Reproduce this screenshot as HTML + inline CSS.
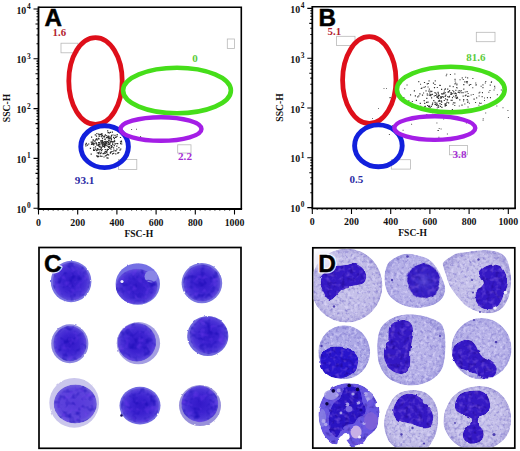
<!DOCTYPE html>
<html><head><meta charset="utf-8"><style>
html,body{margin:0;padding:0;background:#fff;}
body{width:520px;height:451px;overflow:hidden;}
svg{display:block}
</style></head><body>
<svg width="520" height="451" viewBox="0 0 520 451">
<defs>
<radialGradient id="cg0" cx="50%" cy="50%" r="50%">
<stop offset="0" stop-color="#3218c8"/><stop offset="0.5" stop-color="#3c22d0"/><stop offset="0.8" stop-color="#4a32d6"/><stop offset="0.94" stop-color="#5a46da"/><stop offset="1" stop-color="#6e60dc"/>
</radialGradient>
<radialGradient id="cg1" cx="50%" cy="50%" r="50%">
<stop offset="0" stop-color="#5638da"/><stop offset="0.8" stop-color="#5e44dc"/><stop offset="1" stop-color="#7060dc"/>
</radialGradient>
<filter id="ctex" x="0" y="0" width="100%" height="100%" color-interpolation-filters="sRGB">
<feTurbulence type="fractalNoise" baseFrequency="0.33" numOctaves="2" seed="7" result="n"/>
<feColorMatrix in="n" type="matrix" values="0 0 0 0 0.44  0 0 0 0 0.4  0 0 0 0 0.78  1.7 0 0 0 -0.84" result="dk"/>
<feColorMatrix in="n" type="matrix" values="0 0 0 0 0.9  0 0 0 0 0.88  0 0 0 0 1  0 1.7 0 0 -0.82" result="lt"/>
<feMerge result="m"><feMergeNode in="SourceGraphic"/><feMergeNode in="dk"/><feMergeNode in="lt"/></feMerge>
<feComposite in="m" in2="SourceAlpha" operator="in"/>
</filter>
<filter id="ntex" x="-5%" y="-5%" width="110%" height="110%" color-interpolation-filters="sRGB">
<feTurbulence type="fractalNoise" baseFrequency="0.12" numOctaves="2" seed="9" result="w"/>
<feDisplacementMap in="SourceGraphic" in2="w" scale="3" xChannelSelector="R" yChannelSelector="G" result="sg"/>
<feTurbulence type="fractalNoise" baseFrequency="0.22" numOctaves="2" seed="3" result="n"/>
<feColorMatrix in="n" type="matrix" values="0 0 0 0 0.1  0 0 0 0 0  0 0 0 0 0.5  1.3 0 0 0 -0.66" result="dk"/>
<feColorMatrix in="n" type="matrix" values="0 0 0 0 0.5  0 0 0 0 0.36  0 0 0 0 0.88  0 1.6 0 0 -0.78" result="lt"/>
<feMerge result="m"><feMergeNode in="sg"/><feMergeNode in="dk"/><feMergeNode in="lt"/></feMerge>
<feComposite in="m" in2="sg" operator="in"/>
</filter>
<filter id="cntex" x="0" y="0" width="100%" height="100%" color-interpolation-filters="sRGB">
<feTurbulence type="fractalNoise" baseFrequency="0.16" numOctaves="2" seed="11" result="n"/>
<feColorMatrix in="n" type="matrix" values="0 0 0 0 0.08  0 0 0 0 0.03  0 0 0 0 0.7  1.6 0 0 0 -0.78" result="dk"/>
<feColorMatrix in="n" type="matrix" values="0 0 0 0 0.46  0 0 0 0 0.24  0 0 0 0 0.95  0 1.3 0 0 -0.7" result="lt"/>
<feMerge result="m"><feMergeNode in="SourceGraphic"/><feMergeNode in="dk"/><feMergeNode in="lt"/></feMerge>
<feComposite in="m" in2="SourceAlpha" operator="in"/>
</filter>
<filter id="blur3" x="-50%" y="-50%" width="200%" height="200%"><feGaussianBlur stdDeviation="3"/></filter>
<filter id="soft" x="-10%" y="-10%" width="120%" height="120%"><feTurbulence type="fractalNoise" baseFrequency="0.3" numOctaves="1" seed="4" result="t"/><feDisplacementMap in="SourceGraphic" in2="t" scale="2.2" xChannelSelector="R" yChannelSelector="G" result="d"/><feGaussianBlur in="d" stdDeviation="0.5"/></filter>
<radialGradient id="cyg" cx="50%" cy="50%" r="50%">
<stop offset="0" stop-color="#c4bee8"/><stop offset="0.85" stop-color="#bbb5e4"/><stop offset="1" stop-color="#a8a2da"/>
</radialGradient>
<radialGradient id="cygA" cx="50%" cy="50%" r="50%">
<stop offset="0" stop-color="#c8c4ea"/><stop offset="0.85" stop-color="#c0bbe6"/><stop offset="1" stop-color="#aca6dc"/>
</radialGradient>
<radialGradient id="cygB" cx="50%" cy="50%" r="50%">
<stop offset="0" stop-color="#b2aee8"/><stop offset="0.85" stop-color="#aaa6e4"/><stop offset="1" stop-color="#9a96dc"/>
</radialGradient>
<radialGradient id="cygC" cx="50%" cy="50%" r="50%">
<stop offset="0" stop-color="#bcb7ea"/><stop offset="0.85" stop-color="#b4afe6"/><stop offset="1" stop-color="#a29dde"/>
</radialGradient>
<radialGradient id="nug" cx="50%" cy="50%" r="50%">
<stop offset="0" stop-color="#5444d2"/><stop offset="0.5" stop-color="#3822c6"/><stop offset="1" stop-color="#3218c2"/>
</radialGradient>
<clipPath id="dclip"><rect x="313.6" y="248.6" width="200.4" height="198.7"/></clipPath>
</defs>
<path d="M38.5 7.2H241.3V209" fill="none" stroke="#000" stroke-width="1.6"/>
<path d="M38.5 6.4V209H242.1" fill="none" stroke="#000" stroke-width="1.8"/>
<path d="M33.5 208.2H38.5M36.5 193.2H38.5M36.5 184.4H38.5M36.5 178.2H38.5M35.5 173.4H38.5M36.5 169.4H38.5M36.5 166.1H38.5M36.5 163.2H38.5M36.5 160.7H38.5M33.5 158.4H38.5M36.5 143.4H38.5M36.5 134.6H38.5M36.5 128.4H38.5M35.5 123.6H38.5M36.5 119.6H38.5M36.5 116.3H38.5M36.5 113.4H38.5M36.5 110.9H38.5M33.5 108.6H38.5M36.5 93.6H38.5M36.5 84.8H38.5M36.5 78.6H38.5M35.5 73.8H38.5M36.5 69.8H38.5M36.5 66.5H38.5M36.5 63.6H38.5M36.5 61.1H38.5M33.5 58.8H38.5M36.5 43.8H38.5M36.5 35H38.5M36.5 28.8H38.5M35.5 24H38.5M36.5 20H38.5M36.5 16.7H38.5M36.5 13.8H38.5M36.5 11.3H38.5M33.5 9H38.5M38.5 209V214.5M77.7 209V214.5M116.9 209V214.5M156.1 209V214.5M195.3 209V214.5M234.5 209V214.5M43.4 209V210.4M48.3 209V210.4M53.2 209V210.4M58.1 209V210.4M63 209V210.4M67.9 209V210.4M72.8 209V210.4M82.6 209V210.4M87.5 209V210.4M92.4 209V210.4M97.3 209V210.4M102.2 209V210.4M107.1 209V210.4M112 209V210.4M121.8 209V210.4M126.7 209V210.4M131.6 209V210.4M136.5 209V210.4M141.4 209V210.4M146.3 209V210.4M151.2 209V210.4M161 209V210.4M165.9 209V210.4M170.8 209V210.4M175.7 209V210.4M180.6 209V210.4M185.5 209V210.4M190.4 209V210.4M200.2 209V210.4M205.1 209V210.4M210 209V210.4M214.9 209V210.4M219.8 209V210.4M224.7 209V210.4M229.6 209V210.4" stroke="#000" stroke-width="1.1" fill="none"/>
<g font-family='"Liberation Serif", serif' font-weight="bold" font-size="9.9" fill="#111">
<text x="26.3" y="212.6" text-anchor="end">10</text>
<text x="26.9" y="208" font-size="7.4">0</text>
<text x="26.3" y="162.8" text-anchor="end">10</text>
<text x="26.9" y="158.2" font-size="7.4">1</text>
<text x="26.3" y="113.1" text-anchor="end">10</text>
<text x="26.9" y="108.5" font-size="7.4">2</text>
<text x="26.3" y="63.3" text-anchor="end">10</text>
<text x="26.9" y="58.7" font-size="7.4">3</text>
<text x="26.3" y="13.6" text-anchor="end">10</text>
<text x="26.9" y="9" font-size="7.4">4</text>
<text x="38.5" y="225.8" text-anchor="middle">0</text>
<text x="77.7" y="225.8" text-anchor="middle">200</text>
<text x="116.9" y="225.8" text-anchor="middle">400</text>
<text x="156.1" y="225.8" text-anchor="middle">600</text>
<text x="195.3" y="225.8" text-anchor="middle">800</text>
<text x="234.5" y="225.8" text-anchor="middle">1000</text>
<text x="138.8" y="236.6" text-anchor="middle" font-size="9.6">FSC-H</text>
<text transform="translate(9.6 108) rotate(-90)" text-anchor="middle" font-size="9.6">SSC-H</text>
</g>
<text x="44.6" y="26.1" font-family='"Liberation Sans", sans-serif' font-weight="bold" font-size="24.2" fill="#000" stroke="#000" stroke-width="0.5">A</text>
<rect x="61" y="43.2" width="17" height="9.6" fill="none" stroke="#b8b8b8" stroke-width="0.8"/>
<rect x="227.3" y="39" width="7.1" height="9.5" fill="none" stroke="#b8b8b8" stroke-width="0.8"/>
<rect x="118.5" y="159.4" width="18.3" height="10.2" fill="none" stroke="#b8b8b8" stroke-width="0.8"/>
<rect x="177.7" y="144.8" width="13.3" height="8.2" fill="none" stroke="#b8b8b8" stroke-width="0.8"/>
<path d="M115.2 153.3h1.2v1.2h-1.2zM104.6 138.6h1.2v1.2h-1.2zM93.1 144.2h1.2v1.2h-1.2zM94.7 134.3h1.2v1.2h-1.2zM105.3 144.6h1.2v1.2h-1.2zM109.4 137.3h1.2v1.2h-1.2zM104 143.8h1.2v1.2h-1.2zM89.8 147.7h1.2v1.2h-1.2zM106.4 157.3h1.2v1.2h-1.2zM105.3 143.3h1.2v1.2h-1.2zM116.2 145.5h1.2v1.2h-1.2zM113 141.3h1.2v1.2h-1.2zM106.2 151.5h1.2v1.2h-1.2zM110.5 144.9h1.2v1.2h-1.2zM93.2 147.3h1.2v1.2h-1.2zM104.7 149h1.2v1.2h-1.2zM106.1 152h1.2v1.2h-1.2zM103.7 144.9h1.2v1.2h-1.2zM110.6 136.1h1.2v1.2h-1.2zM100.3 140.6h1.2v1.2h-1.2zM121.1 143.4h1.2v1.2h-1.2zM110.4 148.5h1.2v1.2h-1.2zM101.3 133.1h1.2v1.2h-1.2zM113.6 141h1.2v1.2h-1.2zM110.9 134.7h1.2v1.2h-1.2zM99.7 153.1h1.2v1.2h-1.2zM116.5 135.6h1.2v1.2h-1.2zM90.9 143.7h1.2v1.2h-1.2zM110.9 145.1h1.2v1.2h-1.2zM107 136.8h1.2v1.2h-1.2zM109.8 152.1h1.2v1.2h-1.2zM99.8 133.8h1.2v1.2h-1.2zM96.5 149.6h1.2v1.2h-1.2zM88.1 143.4h1.2v1.2h-1.2zM94.2 143h1.2v1.2h-1.2zM102.4 144.1h1.2v1.2h-1.2zM118.3 147h1.2v1.2h-1.2zM117.1 143h1.2v1.2h-1.2zM99.7 146.5h1.2v1.2h-1.2zM85.2 143.8h1.2v1.2h-1.2zM105.6 135h1.2v1.2h-1.2zM108.4 140.1h1.2v1.2h-1.2zM85.7 142.8h1.2v1.2h-1.2zM94.3 140.2h1.2v1.2h-1.2zM102.5 153.1h1.2v1.2h-1.2zM104.5 143.9h1.2v1.2h-1.2zM107.5 132.1h1.2v1.2h-1.2zM115.6 136.6h1.2v1.2h-1.2zM108.4 135.8h1.2v1.2h-1.2zM94.3 141.1h1.2v1.2h-1.2zM120.2 148.4h1.2v1.2h-1.2zM98.4 142.1h1.2v1.2h-1.2zM92.6 143.7h1.2v1.2h-1.2zM98.4 149.2h1.2v1.2h-1.2zM90.7 141.6h1.2v1.2h-1.2zM95.6 138.7h1.2v1.2h-1.2zM110.7 144.9h1.2v1.2h-1.2zM109.8 152.6h1.2v1.2h-1.2zM114.4 134.8h1.2v1.2h-1.2zM108.8 132.4h1.2v1.2h-1.2zM103.4 156.4h1.2v1.2h-1.2zM102.5 141.8h1.2v1.2h-1.2zM105 144.1h1.2v1.2h-1.2zM104.3 138.7h1.2v1.2h-1.2zM114.6 150.4h1.2v1.2h-1.2zM102.4 145.8h1.2v1.2h-1.2zM110.5 151.5h1.2v1.2h-1.2zM107.8 148.9h1.2v1.2h-1.2zM101.4 136.2h1.2v1.2h-1.2zM99.1 151.5h1.2v1.2h-1.2zM113.7 145.1h1.2v1.2h-1.2zM98.8 146.1h1.2v1.2h-1.2zM117.7 152.2h1.2v1.2h-1.2zM97.7 143.7h1.2v1.2h-1.2zM91 136.5h1.2v1.2h-1.2zM105.1 144.1h1.2v1.2h-1.2zM113.1 152.8h1.2v1.2h-1.2zM111.9 153.3h1.2v1.2h-1.2zM98.6 135.8h1.2v1.2h-1.2zM107.4 157.5h1.2v1.2h-1.2zM107.5 135.6h1.2v1.2h-1.2zM106.4 154.2h1.2v1.2h-1.2zM93.8 149.8h1.2v1.2h-1.2zM98 153.1h1.2v1.2h-1.2zM111.6 146.2h1.2v1.2h-1.2zM121 141.4h1.2v1.2h-1.2zM98.1 155.8h1.2v1.2h-1.2zM97.3 156.4h1.2v1.2h-1.2zM103.6 136.4h1.2v1.2h-1.2zM104 144.5h1.2v1.2h-1.2zM105.4 143h1.2v1.2h-1.2zM111.8 131.6h1.2v1.2h-1.2zM99 142.3h1.2v1.2h-1.2zM116.6 133.9h1.2v1.2h-1.2zM100.6 135.6h1.2v1.2h-1.2zM97.5 148.6h1.2v1.2h-1.2zM108 154.2h1.2v1.2h-1.2zM98.5 145.8h1.2v1.2h-1.2zM115.3 150.4h1.2v1.2h-1.2zM100.7 152.3h1.2v1.2h-1.2zM96.1 155.3h1.2v1.2h-1.2zM104.9 143.5h1.2v1.2h-1.2zM106.6 150.1h1.2v1.2h-1.2zM120 143h1.2v1.2h-1.2zM100.6 148h1.2v1.2h-1.2zM96.3 133h1.2v1.2h-1.2zM112.2 141.3h1.2v1.2h-1.2zM114.8 136.7h1.2v1.2h-1.2zM85.3 145.3h1.2v1.2h-1.2zM105.5 155.1h1.2v1.2h-1.2zM108.7 146.1h1.2v1.2h-1.2zM109.5 141.5h1.2v1.2h-1.2zM104.8 134.2h1.2v1.2h-1.2zM109.1 138.2h1.2v1.2h-1.2zM99.7 149h1.2v1.2h-1.2zM113 136.7h1.2v1.2h-1.2zM120.8 140.4h1.2v1.2h-1.2zM112.3 150.9h1.2v1.2h-1.2zM105.6 144.9h1.2v1.2h-1.2zM119.4 149.6h1.2v1.2h-1.2zM108 132.1h1.2v1.2h-1.2zM96.7 152.4h1.2v1.2h-1.2zM105.9 137.1h1.2v1.2h-1.2zM98 141.9h1.2v1.2h-1.2zM110.6 146.7h1.2v1.2h-1.2zM113.8 138.1h1.2v1.2h-1.2zM113.8 140.3h1.2v1.2h-1.2zM101.3 155.7h1.2v1.2h-1.2zM104.4 143.4h1.2v1.2h-1.2zM102.3 141.7h1.2v1.2h-1.2zM117.1 152.5h1.2v1.2h-1.2zM110.8 145.3h1.2v1.2h-1.2zM114.3 143.4h1.2v1.2h-1.2zM108.1 146.7h1.2v1.2h-1.2zM104.8 155.4h1.2v1.2h-1.2zM118.2 151.9h1.2v1.2h-1.2zM90.6 153.5h1.2v1.2h-1.2zM110.8 140.8h1.2v1.2h-1.2zM103.8 152.3h1.2v1.2h-1.2zM115.4 150.1h1.2v1.2h-1.2zM104.8 144.1h1.2v1.2h-1.2zM112 143.3h1.2v1.2h-1.2zM95.1 139.4h1.2v1.2h-1.2zM102.9 145.9h1.2v1.2h-1.2zM119.9 136.9h1.2v1.2h-1.2zM108 143.4h1.2v1.2h-1.2zM106.9 153.8h1.2v1.2h-1.2zM116.3 142.9h1.2v1.2h-1.2zM98.6 134.3h1.2v1.2h-1.2zM103.3 153.1h1.2v1.2h-1.2zM101.5 148.9h1.2v1.2h-1.2zM110.8 146.8h1.2v1.2h-1.2zM114.8 143.2h1.2v1.2h-1.2zM95.9 135.6h1.2v1.2h-1.2zM113.2 141.4h1.2v1.2h-1.2zM101 150h1.2v1.2h-1.2zM97.1 155.4h1.2v1.2h-1.2zM110.5 140.2h1.2v1.2h-1.2zM97.7 151.9h1.2v1.2h-1.2zM92.4 139.4h1.2v1.2h-1.2zM104 144.9h1.2v1.2h-1.2zM104.1 146.2h1.2v1.2h-1.2zM101.2 143.3h1.2v1.2h-1.2zM116.3 148.6h1.2v1.2h-1.2zM99.9 155.5h1.2v1.2h-1.2zM86.9 144.5h1.2v1.2h-1.2zM110.6 151.1h1.2v1.2h-1.2zM104.9 141.8h1.2v1.2h-1.2zM109.3 142.7h1.2v1.2h-1.2zM107.1 130.3h1.2v1.2h-1.2zM107.7 138.3h1.2v1.2h-1.2zM113.3 149.5h1.2v1.2h-1.2zM111 141.1h1.2v1.2h-1.2zM107.8 141.8h1.2v1.2h-1.2zM105.4 143.3h1.2v1.2h-1.2zM96.9 155.9h1.2v1.2h-1.2zM109.9 131.7h1.2v1.2h-1.2zM112.4 134.4h1.2v1.2h-1.2zM101.9 140.1h1.2v1.2h-1.2zM99.2 145.6h1.2v1.2h-1.2zM100.9 133.7h1.2v1.2h-1.2zM104 146.1h1.2v1.2h-1.2zM119.9 141.2h1.2v1.2h-1.2zM92.2 141.2h1.2v1.2h-1.2zM110.5 137.5h1.2v1.2h-1.2zM96.9 148h1.2v1.2h-1.2zM103.9 145h1.2v1.2h-1.2zM97.8 138h1.2v1.2h-1.2zM101.5 143.1h1.2v1.2h-1.2zM101.1 146.8h1.2v1.2h-1.2zM109.2 147.8h1.2v1.2h-1.2zM108.7 137.5h1.2v1.2h-1.2zM93 149.8h1.2v1.2h-1.2zM104.1 144.5h1.2v1.2h-1.2zM92.5 142.5h1.2v1.2h-1.2zM97.7 137.7h1.2v1.2h-1.2zM98.1 133.6h1.2v1.2h-1.2zM104.8 152.5h1.2v1.2h-1.2zM97.4 144.7h1.2v1.2h-1.2zM93.2 148.9h1.2v1.2h-1.2z" fill="#2a2a2a"/>
<path d="M114.1 140.6h1.2v1.2h-1.2zM104.6 143.4h1.2v1.2h-1.2zM107.8 136.9h1.2v1.2h-1.2zM100.7 139.9h1.2v1.2h-1.2zM96.7 139.3h1.2v1.2h-1.2zM100.6 142h1.2v1.2h-1.2zM97.8 144.8h1.2v1.2h-1.2zM101 134.2h1.2v1.2h-1.2zM110 141.3h1.2v1.2h-1.2zM99.1 144.1h1.2v1.2h-1.2zM103.7 143.1h1.2v1.2h-1.2zM98.3 143.8h1.2v1.2h-1.2zM95 148.6h1.2v1.2h-1.2zM95.5 142.1h1.2v1.2h-1.2zM103.1 143.5h1.2v1.2h-1.2zM101.9 144.6h1.2v1.2h-1.2zM91 142.4h1.2v1.2h-1.2zM101.6 141h1.2v1.2h-1.2zM110.9 138.3h1.2v1.2h-1.2zM101.9 134.7h1.2v1.2h-1.2zM103.8 135.6h1.2v1.2h-1.2zM95.8 150h1.2v1.2h-1.2zM105.7 142.5h1.2v1.2h-1.2zM103.2 136.1h1.2v1.2h-1.2zM96 144.3h1.2v1.2h-1.2zM91.7 143.5h1.2v1.2h-1.2zM92.6 143h1.2v1.2h-1.2zM96.4 149.5h1.2v1.2h-1.2zM108.2 140.1h1.2v1.2h-1.2zM92.8 139.5h1.2v1.2h-1.2zM101.9 138h1.2v1.2h-1.2zM103.9 146.6h1.2v1.2h-1.2zM102.1 141h1.2v1.2h-1.2zM106.5 141.3h1.2v1.2h-1.2zM107 141.1h1.2v1.2h-1.2zM111.8 141.2h1.2v1.2h-1.2zM95.9 142.9h1.2v1.2h-1.2zM98.4 138.2h1.2v1.2h-1.2zM101.7 145.4h1.2v1.2h-1.2zM91.7 142.4h1.2v1.2h-1.2zM101.9 142.2h1.2v1.2h-1.2zM107 136.7h1.2v1.2h-1.2zM105.7 141.7h1.2v1.2h-1.2zM103 142.1h1.2v1.2h-1.2zM100.6 140.4h1.2v1.2h-1.2zM104.6 151h1.2v1.2h-1.2zM108.6 146.3h1.2v1.2h-1.2zM105.4 140.7h1.2v1.2h-1.2zM105.7 150.9h1.2v1.2h-1.2zM94.9 146.2h1.2v1.2h-1.2zM108.2 143.8h1.2v1.2h-1.2zM107.1 148.8h1.2v1.2h-1.2zM113 147.3h1.2v1.2h-1.2zM112.2 144.1h1.2v1.2h-1.2zM107 143.4h1.2v1.2h-1.2zM104.1 141.1h1.2v1.2h-1.2zM106.6 149.1h1.2v1.2h-1.2zM102.3 143.5h1.2v1.2h-1.2zM105.6 142.9h1.2v1.2h-1.2zM108 143.9h1.2v1.2h-1.2zM95.9 138.3h1.2v1.2h-1.2zM106.8 145.5h1.2v1.2h-1.2zM109.2 143.9h1.2v1.2h-1.2zM103.9 136h1.2v1.2h-1.2zM110.8 138.8h1.2v1.2h-1.2zM108.9 137.8h1.2v1.2h-1.2zM99.4 143.5h1.2v1.2h-1.2zM100.5 140h1.2v1.2h-1.2zM108.1 145.8h1.2v1.2h-1.2zM104.6 141.8h1.2v1.2h-1.2z" fill="#333"/>
<path d="M124.9 133.4h1.0v1.0h-1.0zM136 128.8h1.0v1.0h-1.0zM131.1 129h1.0v1.0h-1.0zM138.6 138.8h1.0v1.0h-1.0zM140.1 136h1.0v1.0h-1.0zM134.4 136.9h1.0v1.0h-1.0zM127.6 138.6h1.0v1.0h-1.0zM124.5 136.6h1.0v1.0h-1.0z" fill="#555"/>
<ellipse cx="95.5" cy="81" rx="26.7" ry="43.4" fill="none" stroke="#de0f1a" stroke-width="4.8"/>
<ellipse cx="104.6" cy="146.7" rx="23.8" ry="20.9" fill="none" stroke="#1220dc" stroke-width="4.9"/>
<ellipse cx="177" cy="90.5" rx="53.9" ry="22.8" fill="none" stroke="#46de1a" stroke-width="4.6"/>
<ellipse cx="161" cy="129" rx="40.5" ry="11.8" fill="none" stroke="#a41ee6" stroke-width="4.4"/>
<g font-family='"Liberation Serif", serif' font-weight="bold">
<text x="52.6" y="35.6" font-size="10.8" fill="#b2222e">1.6</text>
<text x="192.3" y="61.6" font-size="11" fill="#5ccc3c">0</text>
<text x="178" y="159.6" font-size="11.2" fill="#a42cd4">2.2</text>
<text x="74.8" y="183.6" font-size="11.2" fill="#2c2ca4">93.1</text>
</g>
<path d="M312.3 6.7H515.1V208.4" fill="none" stroke="#000" stroke-width="1.6"/>
<path d="M312.3 5.9V208.4H515.9" fill="none" stroke="#000" stroke-width="1.8"/>
<path d="M307.3 207.6H312.3M310.3 192.7H312.3M310.3 183.9H312.3M310.3 177.7H312.3M309.3 172.8H312.3M310.3 168.9H312.3M310.3 165.6H312.3M310.3 162.7H312.3M310.3 160.1H312.3M307.3 157.8H312.3M310.3 142.9H312.3M310.3 134.1H312.3M310.3 127.9H312.3M309.3 123H312.3M310.3 119.1H312.3M310.3 115.8H312.3M310.3 112.9H312.3M310.3 110.3H312.3M307.3 108H312.3M310.3 93.1H312.3M310.3 84.3H312.3M310.3 78.1H312.3M309.3 73.2H312.3M310.3 69.3H312.3M310.3 66H312.3M310.3 63.1H312.3M310.3 60.5H312.3M307.3 58.2H312.3M310.3 43.3H312.3M310.3 34.5H312.3M310.3 28.3H312.3M309.3 23.4H312.3M310.3 19.5H312.3M310.3 16.2H312.3M310.3 13.3H312.3M310.3 10.7H312.3M307.3 8.4H312.3M312.3 208.4V213.9M351.5 208.4V213.9M390.7 208.4V213.9M429.9 208.4V213.9M469.1 208.4V213.9M508.3 208.4V213.9M317.2 208.4V209.8M322.1 208.4V209.8M327 208.4V209.8M331.9 208.4V209.8M336.8 208.4V209.8M341.7 208.4V209.8M346.6 208.4V209.8M356.4 208.4V209.8M361.3 208.4V209.8M366.2 208.4V209.8M371.1 208.4V209.8M376 208.4V209.8M380.9 208.4V209.8M385.8 208.4V209.8M395.6 208.4V209.8M400.5 208.4V209.8M405.4 208.4V209.8M410.3 208.4V209.8M415.2 208.4V209.8M420.1 208.4V209.8M425 208.4V209.8M434.8 208.4V209.8M439.7 208.4V209.8M444.6 208.4V209.8M449.5 208.4V209.8M454.4 208.4V209.8M459.3 208.4V209.8M464.2 208.4V209.8M474 208.4V209.8M478.9 208.4V209.8M483.8 208.4V209.8M488.7 208.4V209.8M493.6 208.4V209.8M498.5 208.4V209.8M503.4 208.4V209.8" stroke="#000" stroke-width="1.1" fill="none"/>
<g font-family='"Liberation Serif", serif' font-weight="bold" font-size="9.9" fill="#111">
<text x="300.1" y="212" text-anchor="end">10</text>
<text x="300.7" y="207.4" font-size="7.4">0</text>
<text x="300.1" y="162.3" text-anchor="end">10</text>
<text x="300.7" y="157.7" font-size="7.4">1</text>
<text x="300.1" y="112.5" text-anchor="end">10</text>
<text x="300.7" y="107.9" font-size="7.4">2</text>
<text x="300.1" y="62.8" text-anchor="end">10</text>
<text x="300.7" y="58.2" font-size="7.4">3</text>
<text x="300.1" y="13" text-anchor="end">10</text>
<text x="300.7" y="8.4" font-size="7.4">4</text>
<text x="312.3" y="225.2" text-anchor="middle">0</text>
<text x="351.5" y="225.2" text-anchor="middle">200</text>
<text x="390.7" y="225.2" text-anchor="middle">400</text>
<text x="429.9" y="225.2" text-anchor="middle">600</text>
<text x="469.1" y="225.2" text-anchor="middle">800</text>
<text x="508.3" y="225.2" text-anchor="middle">1000</text>
<text x="412.6" y="236" text-anchor="middle" font-size="9.6">FSC-H</text>
<text transform="translate(283.4 107.5) rotate(-90)" text-anchor="middle" font-size="9.6">SSC-H</text>
</g>
<text x="318.4" y="25.6" font-family='"Liberation Sans", sans-serif' font-weight="bold" font-size="24.2" fill="#000" stroke="#000" stroke-width="0.5">B</text>
<rect x="336.6" y="36.3" width="18.4" height="9.3" fill="none" stroke="#b8b8b8" stroke-width="0.8"/>
<rect x="476.3" y="32.3" width="18.7" height="9.4" fill="none" stroke="#b8b8b8" stroke-width="0.8"/>
<rect x="391.3" y="159.7" width="19.1" height="9.4" fill="none" stroke="#b8b8b8" stroke-width="0.8"/>
<rect x="449.5" y="145.4" width="18" height="9.4" fill="none" stroke="#b8b8b8" stroke-width="0.8"/>
<path d="M441.3 106.8h1.2v1.2h-1.2zM427 104.9h1.2v1.2h-1.2zM436.4 96.2h1.2v1.2h-1.2zM466.6 99.1h1.2v1.2h-1.2zM439.4 103.1h1.2v1.2h-1.2zM455.8 97.8h1.2v1.2h-1.2zM448.2 91.2h1.2v1.2h-1.2zM434.9 94.9h1.2v1.2h-1.2zM421.3 87.4h1.2v1.2h-1.2zM417.2 96.3h1.2v1.2h-1.2zM437.6 95.8h1.2v1.2h-1.2zM441 88.7h1.2v1.2h-1.2zM438.9 99.7h1.2v1.2h-1.2zM450.5 92.1h1.2v1.2h-1.2zM434.4 83.9h1.2v1.2h-1.2zM432.9 82.6h1.2v1.2h-1.2zM420.1 105.7h1.2v1.2h-1.2zM409.2 103.6h1.2v1.2h-1.2zM444.6 95.8h1.2v1.2h-1.2zM446.4 101.7h1.2v1.2h-1.2zM454.6 96.4h1.2v1.2h-1.2zM431.7 93.8h1.2v1.2h-1.2zM426.2 97.7h1.2v1.2h-1.2zM429 105.5h1.2v1.2h-1.2zM413.8 90.3h1.2v1.2h-1.2zM426.7 83.3h1.2v1.2h-1.2zM466.6 81.1h1.2v1.2h-1.2zM436 94.3h1.2v1.2h-1.2zM463.2 84.1h1.2v1.2h-1.2zM455 92.9h1.2v1.2h-1.2zM437.8 93.3h1.2v1.2h-1.2zM449 90h1.2v1.2h-1.2zM438.9 100.5h1.2v1.2h-1.2zM465.8 81.2h1.2v1.2h-1.2zM461.4 104.6h1.2v1.2h-1.2zM433.2 100.1h1.2v1.2h-1.2zM433.5 109.5h1.2v1.2h-1.2zM442.9 96.5h1.2v1.2h-1.2zM436.8 96.6h1.2v1.2h-1.2zM437.5 91.8h1.2v1.2h-1.2zM468.8 84.6h1.2v1.2h-1.2zM389.5 97.1h1.2v1.2h-1.2zM437.9 100.6h1.2v1.2h-1.2zM437.1 97h1.2v1.2h-1.2zM444.7 104.8h1.2v1.2h-1.2zM433.7 95.4h1.2v1.2h-1.2zM467.2 101.7h1.2v1.2h-1.2zM426.2 114.3h1.2v1.2h-1.2zM450.9 93.9h1.2v1.2h-1.2zM423.6 100.1h1.2v1.2h-1.2zM428.3 90.6h1.2v1.2h-1.2zM421.9 94.5h1.2v1.2h-1.2zM455.5 95h1.2v1.2h-1.2zM419.7 102.7h1.2v1.2h-1.2zM440.9 103.9h1.2v1.2h-1.2zM456.8 96.8h1.2v1.2h-1.2zM438 97.7h1.2v1.2h-1.2zM424.1 102.7h1.2v1.2h-1.2zM459.2 99.2h1.2v1.2h-1.2zM436.7 96.2h1.2v1.2h-1.2zM429.1 92.4h1.2v1.2h-1.2zM434.4 92.1h1.2v1.2h-1.2zM433.9 87h1.2v1.2h-1.2zM444.9 98.3h1.2v1.2h-1.2zM423.9 81.9h1.2v1.2h-1.2zM439.9 105.7h1.2v1.2h-1.2zM429.7 94.6h1.2v1.2h-1.2zM432 102.6h1.2v1.2h-1.2zM427.2 104.9h1.2v1.2h-1.2zM435.8 104.5h1.2v1.2h-1.2zM440.5 96.4h1.2v1.2h-1.2zM419.3 93.2h1.2v1.2h-1.2zM436.3 102.6h1.2v1.2h-1.2zM443.4 93.1h1.2v1.2h-1.2zM445.7 104.9h1.2v1.2h-1.2zM437.9 94.9h1.2v1.2h-1.2zM434.5 103.7h1.2v1.2h-1.2zM447.5 91.5h1.2v1.2h-1.2zM445.2 94.6h1.2v1.2h-1.2zM429.5 106.7h1.2v1.2h-1.2zM451.5 92.9h1.2v1.2h-1.2zM441.1 101.5h1.2v1.2h-1.2zM431 97.2h1.2v1.2h-1.2zM449.3 85.5h1.2v1.2h-1.2zM444.6 103.2h1.2v1.2h-1.2zM447.1 88.6h1.2v1.2h-1.2zM444.5 92h1.2v1.2h-1.2zM448 102.2h1.2v1.2h-1.2zM443 92.6h1.2v1.2h-1.2zM431.7 104h1.2v1.2h-1.2zM427.4 101.5h1.2v1.2h-1.2zM447.2 96h1.2v1.2h-1.2zM473.5 98.5h1.2v1.2h-1.2zM470.1 83.9h1.2v1.2h-1.2zM408.6 104.9h1.2v1.2h-1.2zM448.9 95.8h1.2v1.2h-1.2zM439.3 84.7h1.2v1.2h-1.2zM431.2 90.8h1.2v1.2h-1.2zM436.9 104.2h1.2v1.2h-1.2zM440.7 100.6h1.2v1.2h-1.2zM430.2 95h1.2v1.2h-1.2zM441.6 96h1.2v1.2h-1.2zM457.7 91.9h1.2v1.2h-1.2zM466.5 91.1h1.2v1.2h-1.2zM454.8 92.6h1.2v1.2h-1.2zM463.1 99h1.2v1.2h-1.2zM445.6 103.2h1.2v1.2h-1.2zM431.1 90.7h1.2v1.2h-1.2zM411.6 106.5h1.2v1.2h-1.2zM430.3 93.9h1.2v1.2h-1.2zM439.6 111.9h1.2v1.2h-1.2zM415.8 99.7h1.2v1.2h-1.2zM434.5 101.7h1.2v1.2h-1.2zM414.8 95.2h1.2v1.2h-1.2zM451.8 108.9h1.2v1.2h-1.2zM462.4 92h1.2v1.2h-1.2zM440.8 97.2h1.2v1.2h-1.2zM420.7 87.9h1.2v1.2h-1.2zM450.6 99.7h1.2v1.2h-1.2zM438 106.5h1.2v1.2h-1.2zM426 101.7h1.2v1.2h-1.2zM440.1 97.6h1.2v1.2h-1.2zM446.9 99.2h1.2v1.2h-1.2zM443.7 99.9h1.2v1.2h-1.2zM467.1 95.8h1.2v1.2h-1.2zM454.2 102.3h1.2v1.2h-1.2zM435.1 103.6h1.2v1.2h-1.2zM428 106.1h1.2v1.2h-1.2zM428.7 94.6h1.2v1.2h-1.2zM444.5 103.8h1.2v1.2h-1.2z" fill="#333"/>
<path d="M451.9 97.1h1.1v1.1h-1.1zM439.8 96.3h1.1v1.1h-1.1zM476.1 97.3h1.1v1.1h-1.1zM489.7 84.6h1.1v1.1h-1.1zM452.7 86.1h1.1v1.1h-1.1zM430.4 91.1h1.1v1.1h-1.1zM456.1 96.7h1.1v1.1h-1.1zM461.9 111.5h1.1v1.1h-1.1zM472.3 77.9h1.1v1.1h-1.1zM456.1 87h1.1v1.1h-1.1zM437.2 106.4h1.1v1.1h-1.1zM445.7 75.2h1.1v1.1h-1.1zM457.8 90.5h1.1v1.1h-1.1zM420 83.7h1.1v1.1h-1.1zM435.5 92.8h1.1v1.1h-1.1zM441.5 93.6h1.1v1.1h-1.1zM494.1 85.8h1.1v1.1h-1.1zM429.6 90.5h1.1v1.1h-1.1zM480.6 85.7h1.1v1.1h-1.1zM485.2 81h1.1v1.1h-1.1zM423 92.4h1.1v1.1h-1.1zM427.5 86.5h1.1v1.1h-1.1zM463 100.4h1.1v1.1h-1.1zM453.2 91h1.1v1.1h-1.1zM486.9 97.1h1.1v1.1h-1.1zM444.6 105.7h1.1v1.1h-1.1zM426.8 94.7h1.1v1.1h-1.1zM467.6 92.9h1.1v1.1h-1.1zM436.5 96.4h1.1v1.1h-1.1zM436.8 87h1.1v1.1h-1.1zM424.8 105.8h1.1v1.1h-1.1zM436.1 105h1.1v1.1h-1.1zM459.6 90.7h1.1v1.1h-1.1zM468.2 95.7h1.1v1.1h-1.1zM454.5 78.8h1.1v1.1h-1.1zM452.9 102.2h1.1v1.1h-1.1zM464.3 103.4h1.1v1.1h-1.1zM489.9 97.1h1.1v1.1h-1.1zM491 81.2h1.1v1.1h-1.1zM446.2 73.7h1.1v1.1h-1.1zM472.7 94h1.1v1.1h-1.1zM493.5 89.5h1.1v1.1h-1.1zM408.8 103.2h1.1v1.1h-1.1zM418.2 81.1h1.1v1.1h-1.1zM446.6 99.1h1.1v1.1h-1.1zM438.9 94.7h1.1v1.1h-1.1zM413.8 106.2h1.1v1.1h-1.1zM450 93.7h1.1v1.1h-1.1zM465.4 94.6h1.1v1.1h-1.1zM456.4 83.4h1.1v1.1h-1.1zM448.5 96.8h1.1v1.1h-1.1zM479.3 91.7h1.1v1.1h-1.1zM452.9 95.7h1.1v1.1h-1.1zM465.1 95h1.1v1.1h-1.1zM444.9 88.3h1.1v1.1h-1.1zM481.6 96.1h1.1v1.1h-1.1zM451.3 113h1.1v1.1h-1.1zM475 101.9h1.1v1.1h-1.1zM455.1 82.4h1.1v1.1h-1.1zM481.9 92.1h1.1v1.1h-1.1zM452.4 103.7h1.1v1.1h-1.1zM478.6 95.5h1.1v1.1h-1.1zM451.4 111.4h1.1v1.1h-1.1zM466.6 82.3h1.1v1.1h-1.1zM470.6 94.5h1.1v1.1h-1.1zM451.8 99.7h1.1v1.1h-1.1zM456.5 111h1.1v1.1h-1.1zM455.1 94.9h1.1v1.1h-1.1zM482.4 87.1h1.1v1.1h-1.1zM478.5 92.4h1.1v1.1h-1.1zM482.4 84.3h1.1v1.1h-1.1zM461.7 77.3h1.1v1.1h-1.1zM441.2 93.1h1.1v1.1h-1.1zM462.5 110.7h1.1v1.1h-1.1zM490.8 81.8h1.1v1.1h-1.1zM430.9 105.8h1.1v1.1h-1.1zM462.7 79h1.1v1.1h-1.1zM464.2 81.3h1.1v1.1h-1.1zM428.5 80.3h1.1v1.1h-1.1zM445.4 111.8h1.1v1.1h-1.1zM459.1 92.1h1.1v1.1h-1.1zM500.8 89.5h1.1v1.1h-1.1zM448.1 91h1.1v1.1h-1.1zM460.9 90.2h1.1v1.1h-1.1zM489.4 90h1.1v1.1h-1.1zM464.8 95.1h1.1v1.1h-1.1zM427.9 82.9h1.1v1.1h-1.1zM449.9 74h1.1v1.1h-1.1zM451.2 93.4h1.1v1.1h-1.1zM453.2 92.5h1.1v1.1h-1.1zM459.2 89.9h1.1v1.1h-1.1zM467.1 77.3h1.1v1.1h-1.1zM475.6 83.9h1.1v1.1h-1.1zM463.3 88.5h1.1v1.1h-1.1zM439.7 84.9h1.1v1.1h-1.1zM484.8 82.5h1.1v1.1h-1.1zM418.3 95.3h1.1v1.1h-1.1zM455.8 93.3h1.1v1.1h-1.1zM424.9 86.2h1.1v1.1h-1.1zM475.2 82.4h1.1v1.1h-1.1zM467.4 100.5h1.1v1.1h-1.1zM454.6 80.4h1.1v1.1h-1.1zM496.8 94.2h1.1v1.1h-1.1zM455.3 89.8h1.1v1.1h-1.1zM425.5 90.3h1.1v1.1h-1.1zM456.3 84.4h1.1v1.1h-1.1zM454.2 105h1.1v1.1h-1.1zM460.8 92.2h1.1v1.1h-1.1zM479 102.4h1.1v1.1h-1.1zM475.5 84.7h1.1v1.1h-1.1zM408.3 100.2h1.1v1.1h-1.1zM452.3 90h1.1v1.1h-1.1zM463.2 88.7h1.1v1.1h-1.1zM436.2 109.7h1.1v1.1h-1.1zM411.8 101h1.1v1.1h-1.1zM474.5 108.8h1.1v1.1h-1.1zM457.1 97.7h1.1v1.1h-1.1zM426.7 93.3h1.1v1.1h-1.1zM404.2 88.2h1.1v1.1h-1.1zM450.7 92.5h1.1v1.1h-1.1zM438.1 105.1h1.1v1.1h-1.1zM410 94.3h1.1v1.1h-1.1zM442.5 93.3h1.1v1.1h-1.1zM452.3 110.8h1.1v1.1h-1.1zM424.2 106h1.1v1.1h-1.1zM488.3 91.7h1.1v1.1h-1.1zM434.7 80.3h1.1v1.1h-1.1zM432.1 110.3h1.1v1.1h-1.1zM403.3 96.9h1.1v1.1h-1.1zM434.9 110h1.1v1.1h-1.1zM459.5 79.2h1.1v1.1h-1.1zM438.7 94.8h1.1v1.1h-1.1zM454.4 83.3h1.1v1.1h-1.1zM444.3 88.8h1.1v1.1h-1.1zM462.6 95.6h1.1v1.1h-1.1zM456.6 87.4h1.1v1.1h-1.1zM472.2 87.2h1.1v1.1h-1.1zM428.8 88.6h1.1v1.1h-1.1zM443.8 90.4h1.1v1.1h-1.1zM410.4 104h1.1v1.1h-1.1zM467.5 106.4h1.1v1.1h-1.1zM440.6 100.6h1.1v1.1h-1.1zM454.3 93.2h1.1v1.1h-1.1zM494.3 87.5h1.1v1.1h-1.1zM465.1 76.7h1.1v1.1h-1.1zM464.7 91.4h1.1v1.1h-1.1zM423.5 86.8h1.1v1.1h-1.1zM406.5 84.4h1.1v1.1h-1.1zM454.3 73.5h1.1v1.1h-1.1zM479.6 102.9h1.1v1.1h-1.1z" fill="#444"/>
<path d="M484 97.5h1.0v1.0h-1.0zM453.4 110.5h1.0v1.0h-1.0zM507.4 110h1.0v1.0h-1.0zM432.2 112.2h1.0v1.0h-1.0zM443.2 118.6h1.0v1.0h-1.0zM465.9 122.5h1.0v1.0h-1.0zM468.9 102.8h1.0v1.0h-1.0zM436.7 107.5h1.0v1.0h-1.0zM482.7 118.3h1.0v1.0h-1.0zM478.4 104.8h1.0v1.0h-1.0zM484 99.9h1.0v1.0h-1.0zM484.1 104.7h1.0v1.0h-1.0zM507.9 116.9h1.0v1.0h-1.0zM480.8 102.8h1.0v1.0h-1.0zM485.2 112.6h1.0v1.0h-1.0zM458.8 105.6h1.0v1.0h-1.0zM502.5 107.2h1.0v1.0h-1.0zM482.6 119.7h1.0v1.0h-1.0zM436.4 122.5h1.0v1.0h-1.0zM496.3 105.5h1.0v1.0h-1.0z" fill="#555"/>
<path d="M383.5 88h1v1h-1zM386 88h1v1h-1zM378 108h1v1h-1zM372 118h1v1h-1zM392 125h1v1h-1z" fill="#777"/>
<path d="M432.5 140.7h1.0v1.0h-1.0zM446.9 133.6h1.0v1.0h-1.0zM438 129.9h1.0v1.0h-1.0zM438.7 128h1.0v1.0h-1.0zM411.1 123.7h1.0v1.0h-1.0zM402.6 129.7h1.0v1.0h-1.0zM438.4 136.8h1.0v1.0h-1.0zM437.4 129.9h1.0v1.0h-1.0zM440.6 128.5h1.0v1.0h-1.0zM388.9 133.9h1.0v1.0h-1.0z" fill="#555"/>
<ellipse cx="369.3" cy="80.1" rx="26.7" ry="43.4" fill="none" stroke="#de0f1a" stroke-width="4.8"/>
<ellipse cx="378.4" cy="145.8" rx="23.8" ry="20.9" fill="none" stroke="#1220dc" stroke-width="4.9"/>
<ellipse cx="450.8" cy="89.6" rx="53.9" ry="22.8" fill="none" stroke="#46de1a" stroke-width="4.6"/>
<ellipse cx="434.8" cy="128.1" rx="40.5" ry="11.8" fill="none" stroke="#a41ee6" stroke-width="4.4"/>
<g font-family='"Liberation Serif", serif' font-weight="bold">
<text x="327.6" y="34.9" font-size="10.8" fill="#b2222e">5.1</text>
<text x="466.3" y="61.3" font-size="11" fill="#5ccc3c">81.6</text>
<text x="452.5" y="158.4" font-size="11.2" fill="#a42cd4">3.8</text>
<text x="349.5" y="182.7" font-size="11" fill="#2c2ca4">0.5</text>
</g>
<rect x="39" y="247.5" width="202" height="200.8" fill="#fff" stroke="#000" stroke-width="1.7"/>
<g>
<ellipse cx="71.1" cy="281.5" rx="20.3" ry="20.7" fill="#7872e2" filter="url(#soft)"/>
<ellipse cx="71.3" cy="281.5" rx="18.8" ry="19.2" fill="url(#cg0)" filter="url(#cntex)"/>
<ellipse cx="137.8" cy="284" rx="22.2" ry="20.8" fill="#7470e4" filter="url(#soft)"/>
<ellipse cx="136.8" cy="286.5" rx="21" ry="17.8" fill="url(#cg0)" filter="url(#cntex)"/>
<ellipse cx="201.9" cy="283.1" rx="20.3" ry="20.1" fill="#7a74e0" filter="url(#soft)"/>
<ellipse cx="201.9" cy="283.1" rx="18.8" ry="18.6" fill="url(#cg0)" filter="url(#cntex)"/>
<ellipse cx="69.8" cy="343.8" rx="18.6" ry="19.5" fill="#8c86e0" filter="url(#soft)"/>
<ellipse cx="70" cy="343.6" rx="16.8" ry="17.8" fill="url(#cg0)" filter="url(#cntex)"/>
<ellipse cx="138.4" cy="343.2" rx="21.7" ry="21.1" fill="#a49ee2" filter="url(#soft)"/>
<ellipse cx="136.8" cy="342.4" rx="19.4" ry="19.4" fill="url(#cg0)" filter="url(#cntex)"/>
<ellipse cx="207.8" cy="336" rx="20.6" ry="19.9" fill="#6e66dc" filter="url(#soft)"/>
<ellipse cx="208.6" cy="335.4" rx="19.2" ry="18.8" fill="url(#cg0)" filter="url(#cntex)"/>
<ellipse cx="74.2" cy="402.8" rx="24.9" ry="24.9" fill="#cac6ec" filter="url(#soft)"/>
<ellipse cx="75.3" cy="403.9" rx="21.6" ry="19.5" fill="url(#cg1)" filter="url(#cntex)"/>
<ellipse cx="140" cy="405.6" rx="20.5" ry="18.8" fill="#7068e0" filter="url(#soft)"/>
<ellipse cx="140" cy="405.6" rx="19.2" ry="17.6" fill="url(#cg0)" filter="url(#cntex)"/>
<ellipse cx="200" cy="405.5" rx="21" ry="20.5" fill="#9890da" filter="url(#soft)"/>
<ellipse cx="199.8" cy="404" rx="18.6" ry="18.2" fill="url(#cg0)" filter="url(#cntex)"/>
</g>
<circle cx="121.5" cy="415.5" r="1.3" fill="#1a1060"/>
<ellipse cx="151" cy="276.5" rx="6.5" ry="6" fill="#8a86e6" filter="url(#soft)"/>
<path d="M145 281 Q150 279 155 283" stroke="#3a24c8" stroke-width="1.2" fill="none" opacity="0.7"/>
<circle cx="122" cy="281.5" r="1.6" fill="#eeeeff"/>
<text x="44" y="272.2" font-family='"Liberation Sans", sans-serif' font-weight="bold" font-size="24.5" fill="#fff" stroke="#fff" stroke-width="3" stroke-linejoin="round" opacity="0.85">C</text>
<text x="44" y="272.2" font-family='"Liberation Sans", sans-serif' font-weight="bold" font-size="24.5" fill="#000" stroke="#000" stroke-width="0.4">C</text>
<rect x="312.8" y="247.8" width="202" height="200.3" fill="#fff" stroke="#000" stroke-width="1.7"/>
<g clip-path="url(#dclip)"><g>
<ellipse cx="346.6" cy="285.5" rx="35.9" ry="37" fill="url(#cygA)" filter="url(#ctex)"/>
<ellipse cx="325" cy="261" rx="12" ry="10" fill="#ebe9f8" opacity="0.9" filter="url(#blur3)"/>
<path d="M320.6 276.5C322.1 274.3 326.1 271 329 269.2C331.9 267.4 334.9 266.6 338 265.8C341.1 265.1 344.9 265.1 347.5 264.7C350.1 264.3 351.5 263 353.7 263.3C355.9 263.6 358.9 265.1 360.8 266.5C362.7 267.9 364.3 269.9 365.2 271.8C366.1 273.7 366.4 276.1 366.1 278C365.8 279.9 364.9 282.1 363.4 283.3C361.9 284.5 359.6 284.5 357.2 285.1C354.8 285.7 351.7 286.1 349.2 286.9C346.7 287.6 344.2 288.3 342.1 289.6C340 290.9 338.6 293.2 336.8 294.9C335 296.6 333.1 299.2 331.5 299.8C329.9 300.4 328.3 299.4 327.1 298.4C325.9 297.4 325.3 295.6 324.4 294C323.5 292.4 322.5 290.6 321.8 288.7C321.1 286.8 320.2 284.5 320 282.5C319.8 280.5 319.1 278.7 320.6 276.5Z" fill="#3418c4" filter="url(#ntex)"/>
<path d="M389 262.1C391 260.1 395.1 257.4 398.1 256C401.1 254.6 403.8 253.9 407.1 253.8C410.4 253.7 414.2 254.4 417.7 255.3C421.2 256.2 425.3 257.2 428.3 259.1C431.3 261 433.6 263.6 435.8 266.6C438.1 269.6 440.2 273.7 441.8 277.2C443.4 280.7 444.9 284.4 445.2 287.7C445.4 291 444.6 294.3 443.3 296.8C442 299.3 439.8 301.2 437.3 302.8C434.8 304.4 431.6 305.7 428.3 306.6C425 307.5 421.2 308.1 417.7 308.1C414.2 308.1 410.6 307.6 407.1 306.6C403.6 305.6 399.6 303.9 396.6 302C393.6 300.1 390.9 297.9 389 295.3C387.1 292.7 386.1 289.5 385.3 286.2C384.6 282.9 384.4 278.7 384.5 275.7C384.6 272.7 385.2 270.4 386 268.1C386.8 265.8 387 264.1 389 262.1Z" fill="url(#cygC)" filter="url(#ctex)"/>
<ellipse cx="423.7" cy="281" rx="16.6" ry="17.3" transform="rotate(-20 423.7 281)" fill="url(#nug)" filter="url(#ntex)"/>
<path d="M444 261.6C446.2 259.5 452.3 255.1 456.2 253.5C460.1 251.9 464 252.4 467.5 251.9C471 251.4 473.7 250.9 477.2 250.6C480.7 250.3 484.7 249.8 488.5 250.2C492.3 250.5 496.9 251.3 499.9 252.7C502.9 254 504.7 255.8 506.3 258.3C507.9 260.9 508.8 264.5 509.6 268C510.4 271.5 511.2 275.1 511.2 279.4C511.2 283.7 510.7 289.6 509.6 293.9C508.5 298.2 506.6 302.5 504.7 305.3C502.8 308.1 501 309.6 498.3 310.9C495.6 312.2 491.8 313.2 488.5 313.3C485.2 313.4 482.3 312.8 478.8 311.7C475.3 310.6 471 309.3 467.5 306.9C464 304.5 460.8 300.7 457.8 297.2C454.8 293.7 451.7 289.6 449.7 285.8C447.7 282 446.8 277.7 445.7 274.5C444.6 271.3 443.5 268.5 443.2 266.4C442.9 264.2 441.8 263.8 444 261.6Z" fill="url(#cygA)" filter="url(#ctex)"/>
<path d="M479.6 271.3C480.6 269.9 483 267.5 485.3 266.4C487.6 265.3 490.8 264.5 493.4 264.5C496 264.5 498.7 265 500.7 266.4C502.7 267.8 504.4 270.5 505.5 272.9C506.6 275.3 507.2 278.3 507.2 281C507.2 283.7 506.1 287 505.5 289.1C504.9 291.2 504.6 292 503.9 293.9C503.2 295.8 502.7 298.2 501.5 300.4C500.3 302.6 498.8 305.4 496.6 306.9C494.4 308.4 491.1 309.2 488.5 309.3C485.9 309.4 483.3 308.9 481.3 307.7C479.3 306.5 477.3 304 476.4 302C475.4 300 475.3 297.5 475.6 295.5C475.9 293.5 476.9 291.5 478 289.9C479.1 288.3 481.2 287 482.1 285.8C483.1 284.6 483.8 283.8 483.7 282.6C483.6 281.4 482.1 280 481.3 278.6C480.6 277.2 479.5 275.7 479.2 274.5C478.9 273.3 478.6 272.7 479.6 271.3Z" fill="#3418c4" filter="url(#ntex)"/>
<circle cx="505.5" cy="292.5" r="1.8" fill="#f0f0fa" filter="url(#soft)"/><circle cx="495" cy="308" r="1.8" fill="#f0f0fa" filter="url(#soft)"/>
<ellipse cx="344.2" cy="352.2" rx="25.9" ry="27" fill="url(#cygB)" filter="url(#ctex)"/>
<path d="M321 354.2C322.1 352.1 324.8 350.1 327.1 348.9C329.4 347.6 331.8 347 334.6 346.7C337.4 346.4 340.8 346.5 343.7 347C346.6 347.5 349.8 348.4 352 349.7C354.2 351 356.2 352.9 357.2 355C358.2 357.1 358.2 360 358 362.5C357.8 365 357.1 367.9 355.7 370C354.3 372.1 351.9 373.9 349.7 375.3C347.4 376.7 345 377.9 342.2 378.3C339.4 378.7 335.8 378.4 333.1 377.6C330.5 376.9 328.2 375.4 326.3 373.8C324.4 372.2 322.8 369.8 321.8 367.8C320.8 365.8 320.4 364 320.3 361.7C320.2 359.4 319.9 356.3 321 354.2Z" fill="#2814cc" filter="url(#ntex)"/>
<path d="M382.4 325.6C384.8 322.6 388.8 319.7 392.8 317.8C396.8 315.9 402 314.7 406.6 314.3C411.2 313.9 416.1 314.5 420.4 315.2C424.7 315.9 429.1 317.3 432.6 318.7C436.1 320.1 439.2 321.5 441.2 323.8C443.2 326.1 444 329 444.7 332.5C445.4 336 445.5 340.3 445.5 344.6C445.5 348.9 445.4 354.1 444.7 358.4C444 362.7 443.2 367.1 441.2 370.6C439.2 374.1 436.1 376.9 432.6 379.2C429.1 381.5 424.7 383.4 420.4 384.4C416.1 385.4 410.9 385.7 406.6 385.3C402.3 384.9 398.1 383.5 394.5 381.8C390.9 380.1 387.6 377.9 385 374.9C382.4 371.9 380.2 367.8 378.9 363.6C377.6 359.4 377.3 354.4 377.2 349.8C377.1 345.2 377.2 340 378.1 336C379 332 379.9 328.6 382.4 325.6Z" fill="url(#cygC)" filter="url(#ctex)"/>
<path d="M389.3 327.3C390.3 325.3 392.3 323.3 394.5 322.1C396.7 320.9 399.9 320.1 402.3 320C404.8 319.9 407.5 320.6 409.2 321.8C410.9 323 412.1 324.9 412.7 327.3C413.3 329.7 413.2 333.1 413 336C412.8 338.9 411.8 341.7 411.4 344.6C411 347.5 410.6 350.4 410.4 353.3C410.2 356.2 410.7 359.2 410.4 361.9C410.1 364.6 409.9 367.7 408.7 369.7C407.5 371.7 405.2 373.4 403.1 374C401 374.6 398.5 374 396.2 373.1C393.9 372.2 391.2 370.7 389.3 368.8C387.4 366.9 385.9 364.5 385 361.9C384.1 359.3 383.8 356 383.8 353.3C383.8 350.6 384.3 347.7 385 345.5C385.7 343.3 387.3 342.2 387.9 340.3C388.5 338.4 388.2 336.4 388.4 334.2C388.6 332 388.3 329.3 389.3 327.3Z" fill="#3418c4" filter="url(#ntex)"/>
<ellipse cx="481.5" cy="348.7" rx="30.1" ry="30.8" fill="url(#cygC)" filter="url(#ctex)"/>
<path d="M452.4 350.8C452.8 349 453.4 346.9 454.7 345.3C456 343.7 458.2 342.3 460.2 341.4C462.2 340.5 464.8 339.8 466.8 339.8C468.8 339.8 470.8 340.3 472.4 341.4C474 342.5 475.2 344.6 476.3 346.4C477.4 348.2 477.8 350.1 479 352C480.2 353.9 481.6 356 483.5 357.5C485.4 359 488.2 359.7 490.1 360.8C492 361.9 493.5 362.9 494.6 364.2C495.7 365.5 496.6 367 496.8 368.6C497 370.2 496.4 372.6 495.7 374.1C494.9 375.6 494 376.8 492.3 377.5C490.6 378.2 487.7 378.8 485.7 378.6C483.7 378.4 481.7 377.1 480.2 376.3C478.7 375.6 478.1 374.7 476.8 374.1C475.5 373.6 474.2 373.6 472.4 373C470.5 372.4 467.9 371.7 465.7 370.8C463.5 369.9 460.9 369 459.1 367.5C457.3 366 455.8 363.8 454.7 361.9C453.6 360 452.8 358.2 452.4 356.4C452 354.5 452 352.6 452.4 350.8Z" fill="#3418c4" filter="url(#ntex)"/>
<path d="M475.5 368 Q477.5 373 478 378" stroke="#6a5ae0" stroke-width="1.1" fill="none" opacity="0.7"/>
<path d="M319.4 406.8C320.3 403.4 322.1 398.8 324.2 395.6C326.3 392.4 329 389.6 332.2 387.6C335.4 385.6 339.7 384.3 343.4 383.6C347.1 382.9 351.1 383.1 354.5 383.6C357.9 384.1 361.2 385.1 364.1 386.8C367 388.5 370 391.5 372.1 394C374.2 396.5 375.8 399.3 376.9 402C378 404.7 378.2 407.1 378.5 410C378.8 412.9 378.8 416.6 378.5 419.5C378.2 422.4 378 425.2 376.9 427.5C375.8 429.8 373.7 431.5 372.1 433.1C370.5 434.7 368.6 435.6 367.3 437.1C366 438.6 365.7 440.6 364.1 441.9C362.5 443.2 359.8 444.4 357.7 445.1C355.6 445.8 353.2 446.7 351.3 445.9C349.4 445.1 347.8 442 346.5 440.3C345.2 438.6 344.7 435.8 343.4 435.5C342.1 435.2 339.7 437.2 338.6 438.7C337.5 440.2 338.3 443.8 337 444.3C335.7 444.8 332.7 443.4 330.6 441.9C328.5 440.4 325.9 438.2 324.2 435.5C322.5 432.8 321.1 429.1 320.2 425.9C319.3 422.7 318.7 419.5 318.6 416.3C318.5 413.1 318.5 410.2 319.4 406.8Z" fill="#6656e0" filter="url(#ntex)"/>
<ellipse cx="331" cy="395" rx="7" ry="5" fill="#a49ce6" opacity="0.85" filter="url(#soft)"/>
<ellipse cx="322.5" cy="418" rx="3.5" ry="9" fill="#8c84e4" opacity="0.8" filter="url(#soft)"/>
<ellipse cx="371" cy="421" rx="7" ry="9" fill="#8062d8" opacity="0.9" filter="url(#soft)"/>
<ellipse cx="369" cy="396" rx="4" ry="4" fill="#9a90e6" opacity="0.8" filter="url(#soft)"/>
<path d="M330.3 410.2C331.2 407.4 332.5 404.6 334.1 402.6C335.7 400.6 338.5 400.4 340.1 398.1C341.7 395.8 342.4 391 343.9 389C345.4 387 346.8 386.1 349.2 386C351.6 385.9 356.2 387 358.2 388.3C360.2 389.6 360.4 391.2 361.2 393.6C362 396 362 400.1 362.8 402.6C363.6 405.1 365.6 406.7 365.8 408.7C366.1 410.7 365.6 413.2 364.3 414.7C363 416.2 360 416.2 358.2 417.7C356.4 419.2 355.7 422.4 353.7 423.7C351.7 424.9 348.2 424.2 346.2 425.2C344.2 426.2 343.1 427.8 341.6 429.8C340.1 431.8 338.6 436.6 337.1 437.3C335.6 438.1 333.9 435.8 332.6 434.3C331.4 432.8 330.2 430.8 329.6 428.3C329 425.8 328.7 422.2 328.8 419.2C328.9 416.2 329.4 413 330.3 410.2Z" fill="#2a14c2" filter="url(#ntex)"/>
<ellipse cx="349" cy="409" rx="3.5" ry="3" fill="#7a68e0" filter="url(#soft)"/>
<g fill="#b4acec" filter="url(#soft)" opacity="0.9"><circle cx="338.6" cy="390.5" r="2"/><circle cx="337" cy="395" r="1.8"/><circle cx="353" cy="394" r="1.6"/><circle cx="347.3" cy="404.4" r="2"/><circle cx="358.5" cy="402.8" r="1.8"/><circle cx="365.7" cy="394" r="2"/><circle cx="368" cy="399" r="1.8"/><circle cx="323.4" cy="421" r="2"/><circle cx="325.8" cy="424.5" r="1.8"/><circle cx="364" cy="423.5" r="1.6"/><circle cx="356" cy="430.7" r="1.8"/><circle cx="341" cy="413" r="1.4"/></g>
<circle cx="377.5" cy="405" r="2.2" fill="#fff"/>
<ellipse cx="356" cy="432" rx="5.5" ry="6.5" fill="#c8b0e6" filter="url(#soft)"/>
<circle cx="346" cy="436.5" r="3.6" fill="#fff" filter="url(#soft)"/>
<circle cx="372" cy="437.5" r="3.2" fill="#fff" filter="url(#soft)"/>
<circle cx="359.5" cy="437" r="1.6" fill="#f4eefc"/>
<g fill="#0a0440"><circle cx="333.3" cy="390.9" r="1.8"/><circle cx="349.2" cy="385.5" r="1.8"/><circle cx="357.5" cy="389.4" r="1.8"/><circle cx="326.9" cy="403.8" r="1.7"/><circle cx="361" cy="410" r="1.6" fill="#1a0890"/></g>
<path d="M389.3 404.8C391 401.7 392.9 397.8 395.5 395.5C398.1 393.2 401.4 391.8 404.8 390.9C408.2 390 412.1 389.7 415.7 390.1C419.3 390.5 423.6 391.5 426.6 393.2C429.6 394.9 431.8 397.5 433.6 400.2C435.4 402.9 436.7 406.1 437.5 409.5C438.3 412.9 438.3 416.8 438.2 420.4C438.1 424 437.6 427.8 436.7 431.2C435.8 434.6 434.5 437.8 432.8 440.6C431.1 443.5 430.2 446.5 426.6 448.3C423 450.1 416 451.4 411.1 451.4C406.2 451.4 400.7 449.9 397.1 448.3C393.5 446.8 391.2 444.7 389.3 442.1C387.4 439.5 386.3 435.9 385.4 432.8C384.5 429.7 383.9 426.6 383.9 423.5C383.9 420.4 384.5 417.3 385.4 414.2C386.3 411.1 387.6 407.9 389.3 404.8Z" fill="url(#cygA)" filter="url(#ctex)"/>
<path d="M393.2 409.5C393.8 406.4 396.4 401.2 398.6 398.6C400.8 396 403.5 394.6 406.4 394C409.2 393.4 413 394 415.7 394.8C418.4 395.6 421.1 397.2 422.7 398.6C424.2 400 423.8 401.7 425 403.3C426.2 404.9 428.4 406.2 429.7 408C431 409.8 432.3 411.9 432.8 414.2C433.3 416.5 433.3 419.8 432.8 421.9C432.3 424 431.5 425.7 429.7 426.6C427.9 427.5 424.5 427.7 421.9 427.4C419.3 427.1 416.8 425.8 414.2 425C411.6 424.2 409 423.3 406.4 422.7C403.8 422.1 400.5 422 398.6 421.1C396.7 420.2 395.7 419.2 394.8 417.3C393.9 415.4 392.6 412.6 393.2 409.5Z" fill="#3418c4" filter="url(#ntex)"/>
<ellipse cx="426.5" cy="401" rx="3.8" ry="3.2" fill="#b0aae4" filter="url(#soft)"/>
<path d="M446.2 408C447.6 404.9 449.5 400.2 452.4 397.1C455.2 394 459.4 391.1 463.3 389.3C467.2 387.5 471.6 386.6 475.7 386.2C479.8 385.8 484.2 386 488.1 387C492 388 495.9 389.9 499 392.4C502.1 394.8 504.9 398.3 506.8 401.7C508.8 405.1 510.1 408.7 510.7 412.6C511.3 416.5 511.3 421.1 510.7 425C510.1 428.9 508.8 432.8 506.8 435.9C504.9 439 502.1 441.5 499 443.7C495.9 445.9 492.8 448.1 488.1 449.1C483.5 450.1 476 450.4 471.1 449.9C466.2 449.4 462.2 448.1 458.6 446C455 443.9 451.8 440.7 449.3 437.5C446.9 434.3 444.8 430.2 443.9 426.6C443 423 443.5 418.8 443.9 415.7C444.3 412.6 444.8 411.1 446.2 408Z" fill="url(#cygA)" filter="url(#ctex)"/>
<path d="M455.5 401.7C456.3 399.1 457.9 395.8 460.2 394C462.5 392.2 466.1 391.4 469.5 390.9C472.9 390.4 477.5 390.2 480.4 390.9C483.2 391.5 485.1 393 486.6 394.8C488.2 396.6 489.2 399.4 489.7 401.7C490.2 404 490.3 406.8 489.7 408.7C489.1 410.6 487.4 412.1 485.8 413.4C484.2 414.7 481.7 415.3 480.4 416.5C479.1 417.7 478.3 419 478 420.4C477.7 421.8 478 423.4 478.8 425C479.6 426.6 481.9 427.9 482.7 429.7C483.5 431.5 483.9 434 483.5 435.9C483.1 437.8 481.9 440 480.4 441.3C478.8 442.6 476.3 443.4 474.2 443.7C472.1 444 469.8 443.8 468 442.9C466.2 442 464.1 440 463.3 438.2C462.5 436.4 462.7 433.9 463.3 432C463.9 430.1 465.9 428 467.2 426.6C468.5 425.2 470.3 424.8 471.1 423.5C471.9 422.2 472.6 420 471.8 418.8C471 417.6 468.3 417.4 466.4 416.5C464.5 415.6 462 414.6 460.2 413.4C458.4 412.2 456.3 411.4 455.5 409.5C454.7 407.6 454.7 404.3 455.5 401.7Z" fill="#3418c4" filter="url(#ntex)"/>
<g fill="#3a2aa8" opacity="0.85"><circle cx="334" cy="306.5" r="1.2"/><circle cx="392" cy="280" r="1.2"/><circle cx="407.5" cy="256.5" r="1.3"/><circle cx="478.5" cy="259.5" r="1.2"/><circle cx="472" cy="280" r="0.9"/><circle cx="473" cy="292.5" r="1"/><circle cx="480" cy="312" r="1"/><circle cx="496" cy="342" r="1.3"/><circle cx="474" cy="320" r="1"/><circle cx="412.5" cy="428" r="1.2"/><circle cx="401.5" cy="434.5" r="1.2"/><circle cx="424" cy="443.5" r="1.1"/><circle cx="494" cy="434.5" r="1.6"/><circle cx="455" cy="423" r="0.9"/><circle cx="440" cy="336" r="1"/><circle cx="321.5" cy="346" r="1.2"/></g>
</g></g>
<text x="318.3" y="272.2" font-family='"Liberation Sans", sans-serif' font-weight="bold" font-size="24.5" fill="#fff" stroke="#fff" stroke-width="3" stroke-linejoin="round" opacity="0.85">D</text>
<text x="318.3" y="272.2" font-family='"Liberation Sans", sans-serif' font-weight="bold" font-size="24.5" fill="#000" stroke="#000" stroke-width="0.4">D</text>
</svg>
</body></html>
